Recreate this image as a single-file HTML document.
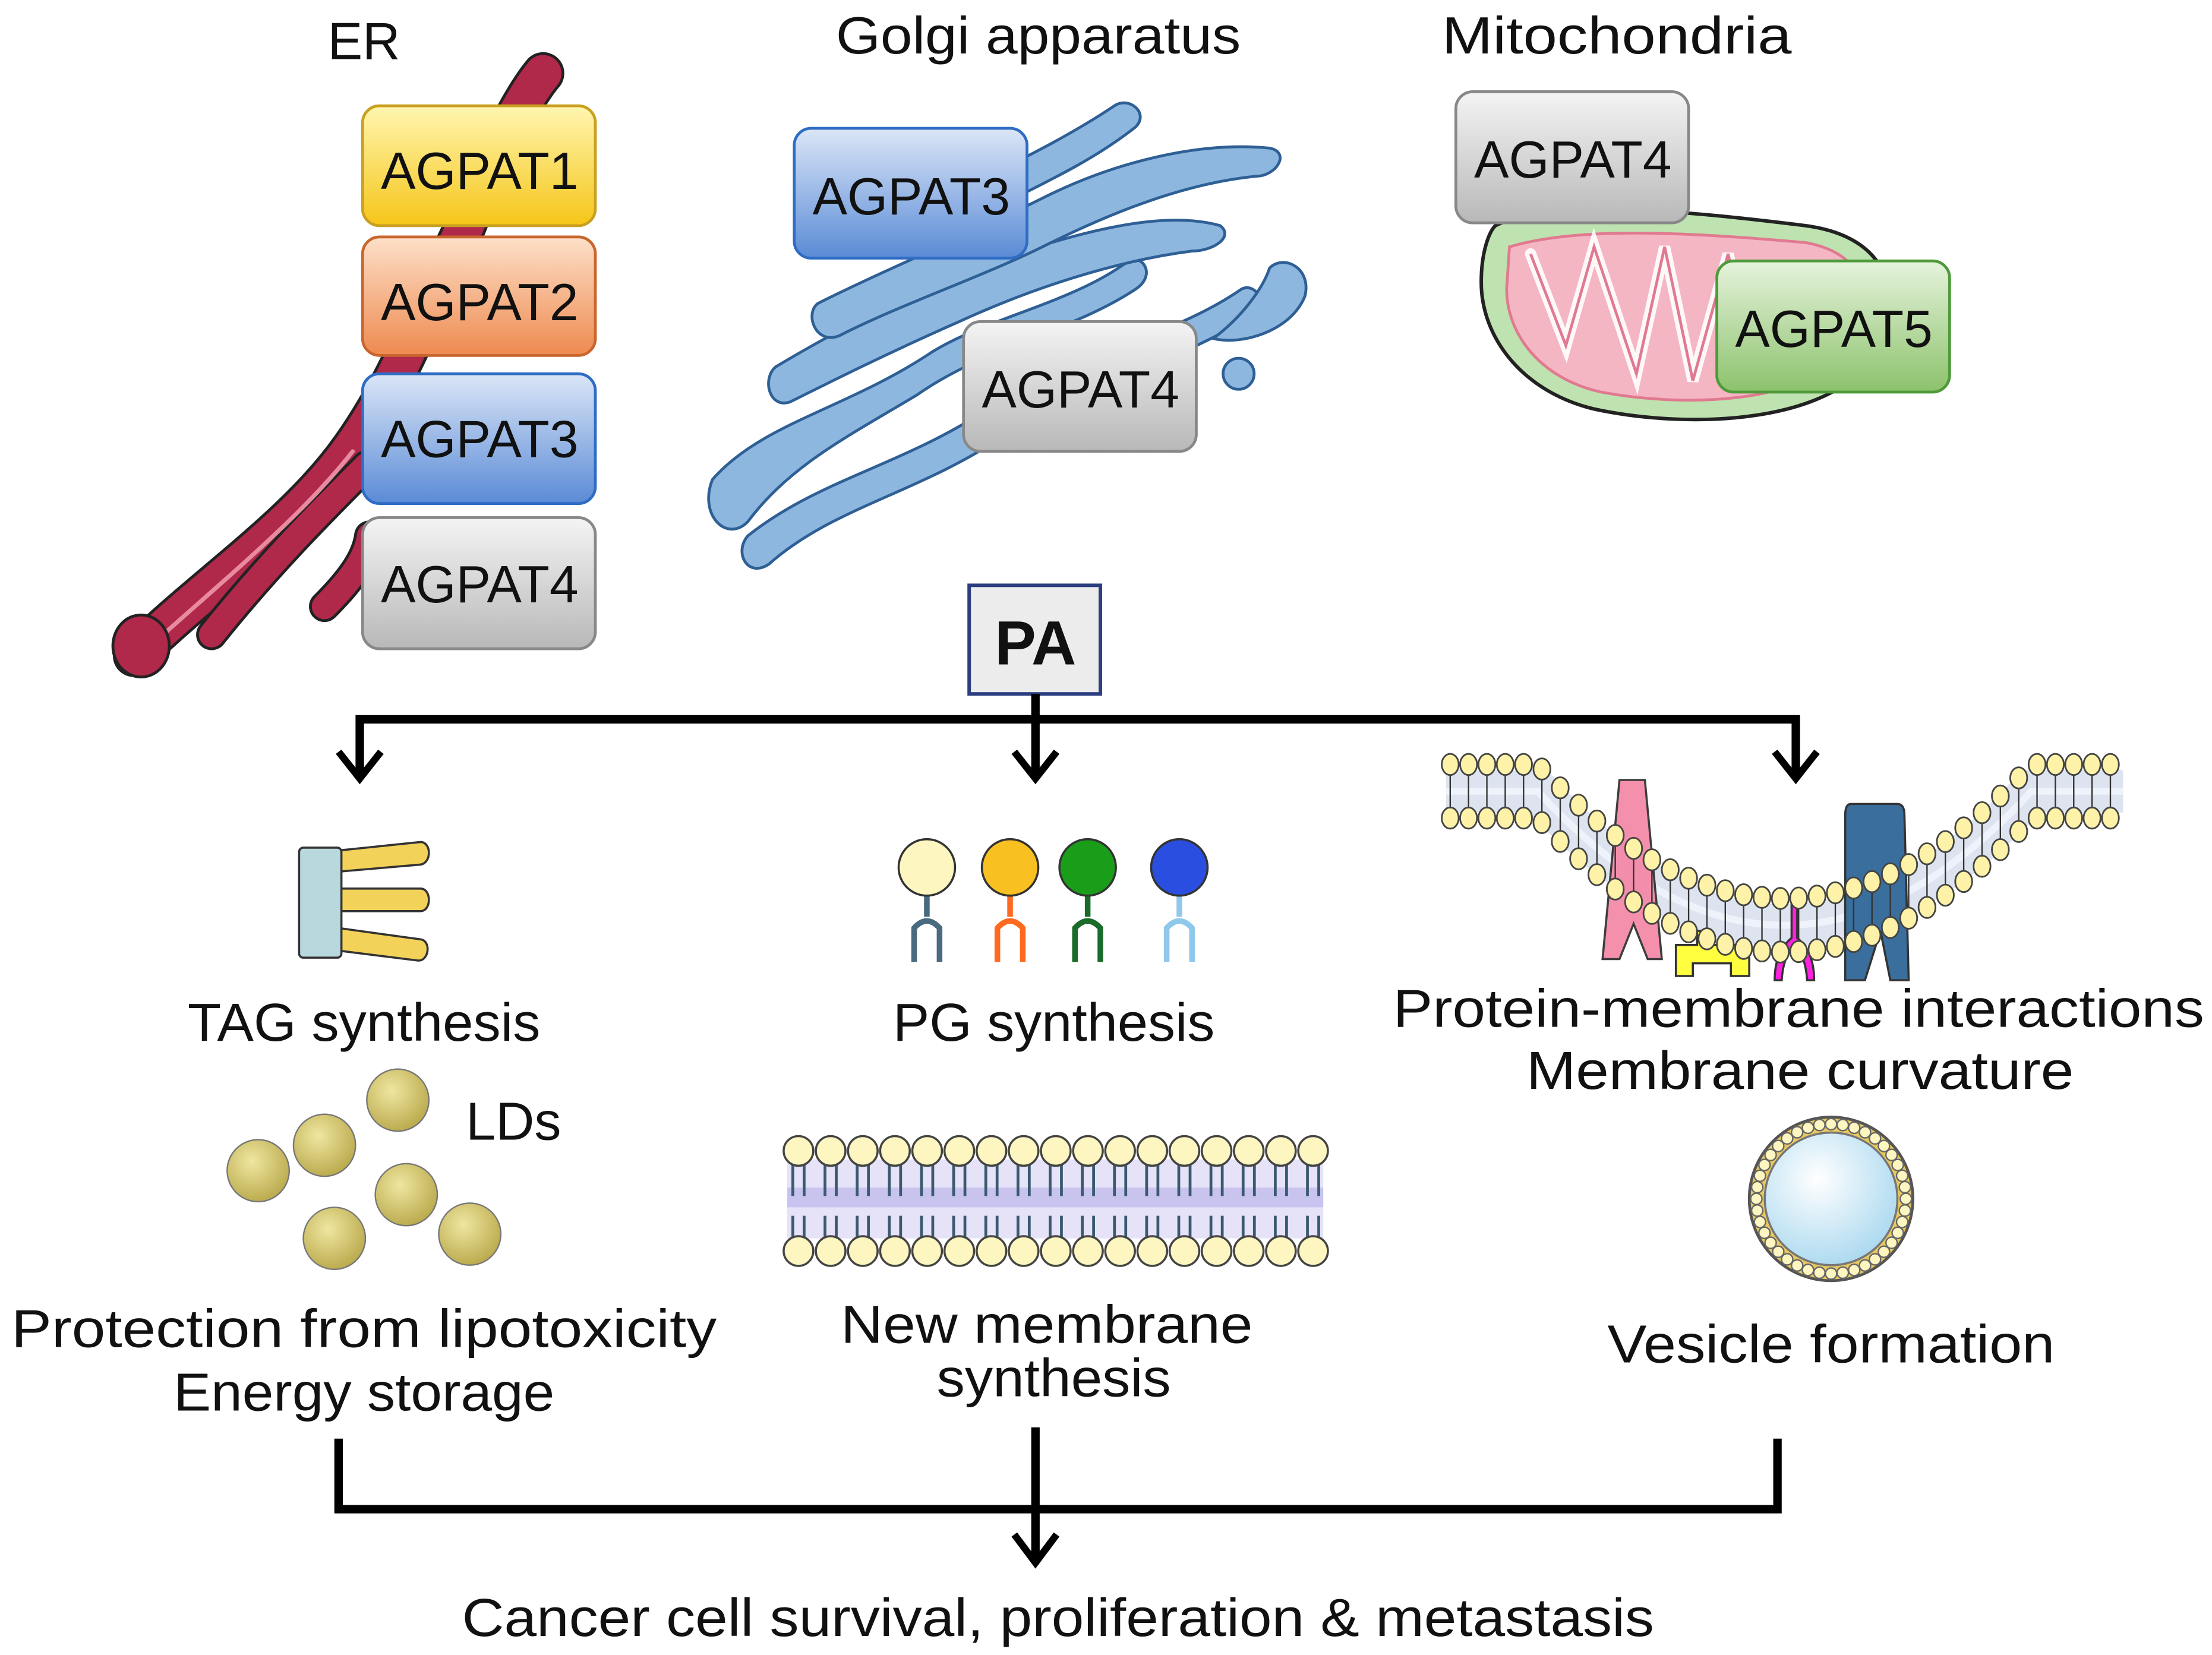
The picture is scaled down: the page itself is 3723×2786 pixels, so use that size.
<!DOCTYPE html>
<html><head><meta charset="utf-8"><style>
html,body{margin:0;padding:0;background:#fff}
svg{display:block}
text{font-family:"Liberation Sans",sans-serif;fill:#111}
</style></head><body>
<svg id="s" width="3723" height="2786" viewBox="0 0 1568 1173.4" xmlns="http://www.w3.org/2000/svg">
<defs>
<linearGradient id="gy" x1="0" y1="0" x2="0" y2="1"><stop offset="0" stop-color="#fff6b0"/><stop offset="1" stop-color="#f5c518"/></linearGradient>
<linearGradient id="go" x1="0" y1="0" x2="0" y2="1"><stop offset="0" stop-color="#fde0c8"/><stop offset="1" stop-color="#ee8a50"/></linearGradient>
<linearGradient id="gb" x1="0" y1="0" x2="0" y2="1"><stop offset="0" stop-color="#dbe6f7"/><stop offset="1" stop-color="#5a8bd6"/></linearGradient>
<linearGradient id="gg" x1="0" y1="0" x2="0" y2="1"><stop offset="0" stop-color="#f4f4f4"/><stop offset="1" stop-color="#b8b8b8"/></linearGradient>
<linearGradient id="gn" x1="0" y1="0" x2="0" y2="1"><stop offset="0" stop-color="#e6f3dc"/><stop offset="1" stop-color="#8cc26c"/></linearGradient>
<radialGradient id="ld" cx="0.4" cy="0.35" r="0.7"><stop offset="0" stop-color="#efe6a0"/><stop offset="1" stop-color="#b8a84a"/></radialGradient>
<radialGradient id="ves" cx="0.4" cy="0.35" r="0.7"><stop offset="0" stop-color="#ffffff"/><stop offset="1" stop-color="#a9d8ef"/></radialGradient>
</defs>

<!-- ER -->
<g fill="none" stroke-linecap="round">
<path d="M95,465 C140,420 200,380 240,330 C280,280 300,220 330,160 C350,110 370,70 385,52" stroke="#222" stroke-width="30"/>
<path d="M95,465 C140,420 200,380 240,330 C280,280 300,220 330,160 C350,110 370,70 385,52" stroke="#b0284a" stroke-width="26"/>
<path d="M150,450 C190,400 230,360 260,330" stroke="#222" stroke-width="22"/>
<path d="M150,450 C190,400 230,360 260,330" stroke="#b0284a" stroke-width="18"/>
<path d="M230,430 C250,410 260,395 262,380" stroke="#222" stroke-width="22"/>
<path d="M230,430 C250,410 260,395 262,380" stroke="#b0284a" stroke-width="18"/>
<path d="M110,455 C160,410 215,365 250,320" stroke="#e88aa0" stroke-width="3"/>
</g>
<ellipse cx="100" cy="458" rx="20" ry="22" fill="#b0284a" stroke="#222" stroke-width="2"/>

<!-- Golgi -->
<g stroke="#2e5f95" stroke-width="2" fill="#8db7df">
<path d="M505,340 C540,300 600,290 660,250 C700,225 760,215 800,185 C810,180 820,195 805,205 C760,235 700,245 650,280 C600,310 560,330 530,370 C515,385 495,365 505,340Z"/>
<path d="M530,380 C580,340 640,330 700,290 C750,255 830,240 880,205 C890,200 900,215 885,225 C830,260 760,275 710,310 C650,350 590,360 545,400 C530,410 520,392 530,380Z"/>
<path d="M550,260 C600,230 660,200 720,180 C780,160 830,150 865,160 C875,168 860,178 845,178 C790,185 730,205 680,228 C630,250 590,270 560,285 C545,290 540,268 550,260Z"/>
<path d="M580,215 C630,190 680,170 740,140 C790,115 850,100 900,105 C915,108 905,125 890,125 C840,130 790,150 745,172 C700,195 640,215 595,238 C578,245 570,222 580,215Z"/>
<path d="M700,125 C730,110 760,95 790,75 C800,68 815,80 805,90 C780,110 750,125 720,140 C705,147 692,132 700,125Z"/>
<path d="M900,190 C910,180 930,190 925,210 C915,235 880,245 860,240 C880,225 895,205 900,190Z"/>
</g>
<circle cx="878" cy="265" r="11" fill="#8db7df" stroke="#2e5f95" stroke-width="2"/>

<!-- Mitochondria -->
<path d="M1060,160 C1100,140 1200,150 1280,160 C1340,168 1350,210 1330,250 C1300,300 1200,305 1130,290 C1080,278 1050,240 1050,200 C1050,180 1055,165 1060,160Z" fill="#bfe3b0" stroke="#222" stroke-width="2.5"/>
<path d="M1070,175 C1120,160 1200,165 1280,172 C1325,180 1330,215 1312,245 C1285,285 1200,290 1135,278 C1090,268 1068,235 1068,205 Z" fill="#f5b6c4" stroke="#e07a90" stroke-width="2"/>
<g stroke="#fff" stroke-width="8" fill="none" stroke-linecap="round" opacity="0.9">
<path d="M1085,180 L1110,245 L1130,175 L1160,265 L1180,175 L1200,270 L1225,180 L1245,265"/>
</g>
<g stroke="#e07a90" stroke-width="2" fill="none">
<path d="M1085,180 L1110,245 L1130,175 L1160,265 L1180,175 L1200,270 L1225,180 L1245,265"/>
</g>

<!-- AGPAT boxes -->
<g font-size="37" text-anchor="middle">
<rect x="257" y="75" width="165" height="85" rx="12" fill="url(#gy)" stroke="#c9a020" stroke-width="2"/><text x="340" y="134" textLength="140" lengthAdjust="spacingAndGlyphs">AGPAT1</text>
<rect x="257" y="168" width="165" height="84" rx="12" fill="url(#go)" stroke="#c8662e" stroke-width="2"/><text x="340" y="227" textLength="140" lengthAdjust="spacingAndGlyphs">AGPAT2</text>
<rect x="257" y="265" width="165" height="92" rx="12" fill="url(#gb)" stroke="#2f6cc4" stroke-width="2"/><text x="340" y="324" textLength="140" lengthAdjust="spacingAndGlyphs">AGPAT3</text>
<rect x="257" y="367" width="165" height="93" rx="12" fill="url(#gg)" stroke="#888" stroke-width="2"/><text x="340" y="427" textLength="140" lengthAdjust="spacingAndGlyphs">AGPAT4</text>
<rect x="563" y="91" width="165" height="92" rx="12" fill="url(#gb)" stroke="#2f6cc4" stroke-width="2"/><text x="646" y="152" textLength="140" lengthAdjust="spacingAndGlyphs">AGPAT3</text>
<rect x="683" y="228" width="165" height="92" rx="12" fill="url(#gg)" stroke="#888" stroke-width="2"/><text x="766" y="289" textLength="140" lengthAdjust="spacingAndGlyphs">AGPAT4</text>
<rect x="1032" y="65" width="165" height="93" rx="12" fill="url(#gg)" stroke="#888" stroke-width="2"/><text x="1115" y="126" textLength="140" lengthAdjust="spacingAndGlyphs">AGPAT4</text>
<rect x="1217" y="185" width="165" height="93" rx="12" fill="url(#gn)" stroke="#4f9a3a" stroke-width="2"/><text x="1300" y="246" textLength="140" lengthAdjust="spacingAndGlyphs">AGPAT5</text>
</g>

<g font-size="37" text-anchor="middle">
<text x="258" y="42">ER</text>
<text x="736" y="38" textLength="287" lengthAdjust="spacingAndGlyphs">Golgi apparatus</text>
<text x="1146" y="38" textLength="248" lengthAdjust="spacingAndGlyphs">Mitochondria</text>
</g>

<!-- PA -->
<rect x="687" y="415" width="93" height="77" fill="#ececec" stroke="#2b3f80" stroke-width="2.5"/>
<text x="734" y="471" font-size="44" font-weight="bold" text-anchor="middle">PA</text>

<!-- arrows top -->
<g stroke="#000" stroke-width="6" fill="none">
<path d="M734,492 V550 M255,552 V510 H1273 V552"/>
<path d="M240,533 L255,552 L270,533 M719,533 L734,552 L749,533 M1258,533 L1273,552 L1288,533" stroke-width="5"/>
</g>

<!-- TAG icon -->
<g stroke="#333" stroke-width="1.5">
<path d="M240,603 L298,597 C306,597 306,612 298,613 L240,618Z" fill="#f3d25a"/>
<path d="M240,630 L298,630 C306,630 306,646 298,646 L240,646Z" fill="#f3d25a"/>
<path d="M240,658 L298,666 C306,667 304,682 296,681 L240,674Z" fill="#f3d25a"/>
<rect x="212" y="601" width="30" height="78" rx="3" fill="#b9d8dd"/>
</g>

<!-- PG heads -->
<g stroke-width="4" fill="none">
<path d="M657,635 V650 M648,682 V658 Q657,648 666,658 V682" stroke="#4a6a80"/>
<path d="M716,635 V650 M707,682 V658 Q716,648 725,658 V682" stroke="#ff6a20"/>
<path d="M771,635 V650 M762,682 V658 Q771,648 780,658 V682" stroke="#1b6b2a"/>
<path d="M836,635 V650 M827,682 V658 Q836,648 845,658 V682" stroke="#8fc8ea"/>
</g>
<g stroke="#333" stroke-width="1.5">
<circle cx="657" cy="615" r="20" fill="#fdf6c0"/>
<circle cx="716" cy="615" r="20" fill="#f8c020"/>
<circle cx="771" cy="615" r="20" fill="#1a9e1a"/>
<circle cx="836" cy="615" r="20" fill="#2a4fe0"/>
</g>

<!-- LDs -->
<g fill="url(#ld)" stroke="#777" stroke-width="1">
<circle cx="282" cy="780" r="22"/><circle cx="230" cy="812" r="22"/><circle cx="183" cy="830" r="22"/>
<circle cx="288" cy="847" r="22"/><circle cx="237" cy="878" r="22"/><circle cx="333" cy="875" r="22"/>
</g>

<!-- vesicle -->
<circle cx="1298" cy="850" r="58" fill="#e8c860" stroke="#555" stroke-width="2"/>
<circle cx="1298" cy="850" r="47" fill="url(#ves)" stroke="#777" stroke-width="1.5"/>
<g id="vh"></g>

<!-- straight bilayer -->
<rect x="558" y="822" width="380" height="56" fill="#e6e2f8"/>
<rect x="558" y="842" width="380" height="14" fill="#c9c3f0"/>
<g id="bl"></g>

<!-- curved membrane -->
<g id="cm"></g>
<g stroke="#333" stroke-width="1.5">
<path d="M1148,553 L1166,553 L1178,680 L1168,680 L1158,655 L1148,680 L1136,680Z" fill="#f48aa8" opacity="0.95"/>
<path d="M1188,670 L1203,670 L1203,660 L1212,660 L1212,670 L1232,670 Q1240,670 1240,680 L1240,692 L1227,692 L1227,683 L1200,683 L1200,692 L1188,692Z" fill="#ffff40"/>
<path d="M1270,640 L1270,665 Q1258,675 1258,695 L1263,695 Q1264,678 1272,670 Q1280,678 1281,695 L1286,695 Q1286,675 1274,665 L1274,640Z" fill="#ff20e0"/>
<path d="M1312,570 L1345,570 Q1350,570 1350,578 L1353,695 L1340,695 L1333,660 L1322,695 L1308,695 L1308,578 Q1308,570 1312,570Z" fill="#3a6e9c"/>
</g>
<g id="cm2"></g>

<!-- Labels -->
<g font-size="38" text-anchor="middle">
<text x="258" y="738" textLength="250" lengthAdjust="spacingAndGlyphs">TAG synthesis</text>
<text x="747" y="738" textLength="228" lengthAdjust="spacingAndGlyphs">PG synthesis</text>
<text x="1275" y="728" textLength="575" lengthAdjust="spacingAndGlyphs">Protein-membrane interactions</text>
<text x="1276" y="772" textLength="388" lengthAdjust="spacingAndGlyphs">Membrane curvature</text>
<text x="364" y="808">LDs</text>
<text x="258" y="955" textLength="500" lengthAdjust="spacingAndGlyphs">Protection from lipotoxicity</text>
<text x="258" y="1000" textLength="270" lengthAdjust="spacingAndGlyphs">Energy storage</text>
<text x="742" y="952" textLength="292" lengthAdjust="spacingAndGlyphs">New membrane</text>
<text x="747" y="990" textLength="166" lengthAdjust="spacingAndGlyphs">synthesis</text>
<text x="1298" y="966" textLength="317" lengthAdjust="spacingAndGlyphs">Vesicle formation</text>
<text x="750" y="1160" textLength="845" lengthAdjust="spacingAndGlyphs">Cancer cell survival, proliferation &amp; metastasis</text>
</g>

<!-- bottom bracket -->
<g stroke="#000" stroke-width="6" fill="none">
<path d="M240,1020 V1070 H1260 V1020 M734,1012 V1105"/>
<path d="M719,1088 L734,1108 L749,1088" stroke-width="5"/>
</g>

<script>
var NS="http://www.w3.org/2000/svg";
function el(p,t,a){var e=document.createElementNS(NS,t);for(var k in a)e.setAttribute(k,a[k]);p.appendChild(e);return e;}
var bl=document.getElementById('bl');
for(var i=0;i<17;i++){var x=566+i*22.8;
 el(bl,'path',{d:'M'+(x-4)+',826 V848 M'+(x+4)+',826 V848 M'+(x-4)+',862 V884 M'+(x+4)+',862 V884',stroke:'#3a5a70','stroke-width':2,fill:'none'});
 el(bl,'circle',{cx:x,cy:816,r:10.5,fill:'#fdf6c0',stroke:'#444','stroke-width':1.5});
 el(bl,'circle',{cx:x,cy:887,r:10.5,fill:'#fdf6c0',stroke:'#444','stroke-width':1.5});}
var vh=document.getElementById('vh');
for(var i=0;i<40;i++){var a=i/40*2*Math.PI;el(vh,'circle',{cx:1298+53*Math.cos(a),cy:850+53*Math.sin(a),r:4,fill:'#fdf6c0',stroke:'#666','stroke-width':1});}
function yU(x){if(x<1090||x>1440)return 542;var t=(x-1265)/175;return 542+95*(1-t*t);}
var cm=document.getElementById('cm'),cm2=document.getElementById('cm2');
var d1='';
for(var x=1025;x<=1505;x+=5){d1+=(x==1025?'M':'L')+x+','+(yU(x)+19);}
el(cm,'path',{d:d1,stroke:'#dde4f0','stroke-width':30,fill:'none'});
el(cm,'path',{d:d1,stroke:'#eef2fa','stroke-width':5,fill:'none'});
for(var x=1028;x<=1502;x+=13){
 var y=yU(x);
 el(cm2,'line',{x1:x,y1:y+6,x2:x,y2:y+32,stroke:'#333','stroke-width':1});
 el(cm2,'ellipse',{cx:x,cy:y,rx:6,ry:7.5,fill:'#fdf2a8',stroke:'#444','stroke-width':1.2});
 el(cm2,'ellipse',{cx:x,cy:y+38,rx:6,ry:7.5,fill:'#fdf2a8',stroke:'#444','stroke-width':1.2});
}
</script>
</svg>
</body></html>
